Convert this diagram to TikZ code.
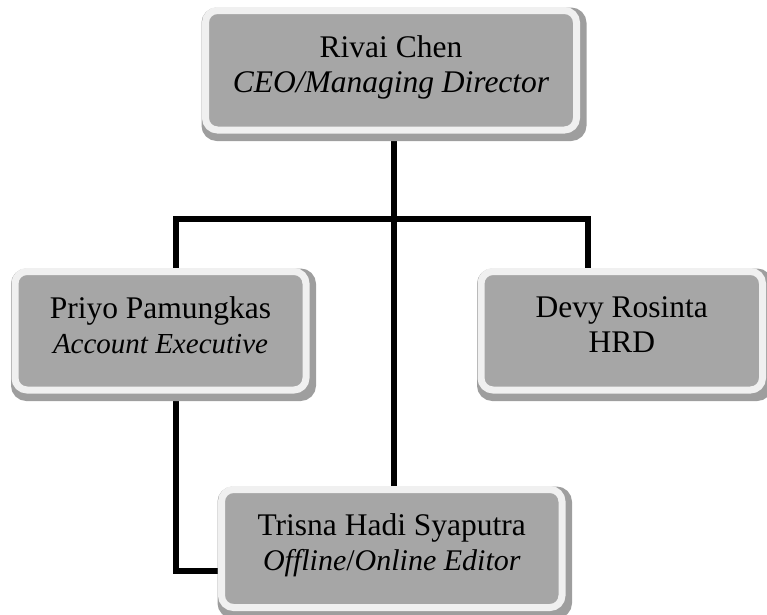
\documentclass[tikz,border=0pt]{standalone}
\usepackage{fontspec}
\setmainfont{Liberation Serif}
\usetikzlibrary{calc,backgrounds}
\pgfdeclarelayer{conn}
\pgfdeclarelayer{shade}
\pgfsetlayers{conn,shade,main}
\definecolor{boxfill}{HTML}{A6A6A6}
\definecolor{boxrim}{HTML}{F0F0F0}
\definecolor{boxshade}{HTML}{9E9E9E}
\newcommand{\namefont}{\fontsize{31.5}{35}\selectfont}
\newcommand{\rolefont}[1]{\fontsize{#1}{35}\selectfont\itshape}
\tikzset{
  orgbox/.style={draw=boxrim, fill=boxfill, line width=7pt, rounded corners=12pt,
    align=center, inner sep=0pt, text depth=12pt, font=\namefont},
  link/.style={draw=black, line width=6pt, line join=miter},
}
\newcommand{\shadebox}[1]{%
  \begin{pgfonlayer}{shade}
    \draw[boxshade, fill=boxshade, line width=7pt, rounded corners=12pt]
      ($(#1.north west)+(3,4)$) rectangle ($(#1.south east)+(3,4)$);
  \end{pgfonlayer}}
\begin{document}
\begin{tikzpicture}[x=1pt,y=-1pt]
\useasboundingbox (0,0) rectangle (767,614);
\node[orgbox, minimum width=371pt, minimum height=119.5pt] (top) at (391,70.25)
  {Rivai Chen\\{\rolefont{31.5}CEO/Managing Director}};
\node[orgbox, minimum width=291pt, minimum height=118.5pt] (lft) at (160.5,330.75)
  {Priyo Pamungkas\\{\rolefont{29}Account Executive}};
\node[orgbox, minimum width=281.5pt, minimum height=118.5pt] (rgt) at (621.75,330.75)
  {Devy Rosinta\\HRD};
\node[orgbox, minimum width=340.5pt, minimum height=118pt] (bot) at (391.75,548.5)
  {Trisna Hadi Syaputra\\{\rolefont{30}Offline\upshape/\itshape Online Editor}};
\shadebox{top}\shadebox{lft}\shadebox{rgt}\shadebox{bot}
\coordinate (j) at (394,219);
\coordinate (hl) at (176,219);
\coordinate (hr) at (588,219);
\coordinate (ek) at (221,571);
\begin{pgfonlayer}{conn}
\draw[link] (top.south -| j) -- (bot.north -| j);
\draw[link] (lft.north -| hl) -- (hl) -- (hr) -- (rgt.north -| hr);
\draw[link] (lft.south -| hl) |- (ek);
\end{pgfonlayer}
\end{tikzpicture}
\end{document}
